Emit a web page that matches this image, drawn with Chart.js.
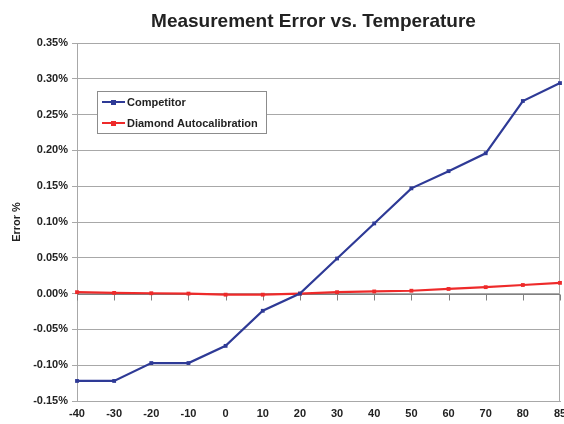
<!DOCTYPE html>
<html>
<head>
<meta charset="utf-8">
<script src="https://cdn.jsdelivr.net/npm/chart.js@4.4.1/dist/chart.umd.min.js"></script>
<style>
  html, body { margin: 0; padding: 0; background: #fff; }
  #wrap { width: 564px; height: 424px; }
</style>
</head>
<body>
<div id="wrap"><canvas id="error-chart" width="564" height="424"></canvas></div>
<script>
const temperatures = ["-40", "-30", "-20", "-10", "0", "10", "20", "30", "40", "50", "60", "70", "80", "85"];
const competitorError = [-0.122, -0.122, -0.097, -0.097, -0.073, -0.024, 0.0, 0.049, 0.098, 0.147, 0.171, 0.196, 0.269, 0.294];
const diamondError = [0.002, 0.001, 0.0005, 0.0, -0.0015, -0.0015, 0.0, 0.002, 0.003, 0.004, 0.0065, 0.009, 0.012, 0.015];
const errorTicks = [-0.15, -0.1, -0.05, 0, 0.05, 0.1, 0.15, 0.2, 0.25, 0.3, 0.35];

const FONT = '"Liberation Sans", Arial, Helvetica, sans-serif';
const TEXT = "#222222";
const GRID = "#a8a8a8";

Chart.defaults.font.family = FONT;
Chart.defaults.color = TEXT;

// title centred over the plot area, like the original
const titlePlugin = {
  id: "plotTitle",
  afterDraw(chart) {
    const { ctx, chartArea } = chart;
    ctx.save();
    ctx.font = "bold 19px " + FONT;
    ctx.fillStyle = TEXT;
    ctx.textAlign = "center";
    ctx.textBaseline = "middle";
    ctx.fillText("Measurement Error vs. Temperature", (chartArea.left + chartArea.right) / 2 - 5, 22);
    ctx.restore();
  },
};

// plot frame plus the category axis crossing at 0 with its tick marks
const framePlugin = {
  id: "plotFrame",
  beforeDatasetsDraw(chart) {
    const { ctx, chartArea, scales } = chart;
    const y0 = Math.round(scales.y.getPixelForValue(0)) + 0.5;
    ctx.save();
    ctx.strokeStyle = GRID;
    ctx.lineWidth = 1;
    ctx.strokeRect(chartArea.left + 0.5, chartArea.top + 0.5, chartArea.width - 1, chartArea.height);
    ctx.strokeStyle = "#808080";
    ctx.beginPath();
    ctx.moveTo(chartArea.left, y0);
    ctx.lineTo(chartArea.right, y0);
    temperatures.forEach((t, i) => {
      const x = Math.round(scales.x.getPixelForValue(i)) + 0.5;
      ctx.moveTo(x, y0);
      ctx.lineTo(x, y0 + 6);
    });
    ctx.stroke();
    ctx.restore();
  },
};

// boxed legend inside the plot, top left
const legendPlugin = {
  id: "boxLegend",
  afterDraw(chart) {
    const { ctx } = chart;
    const left = 97, top = 91, w = 169, h = 42;
    ctx.save();
    ctx.fillStyle = "#ffffff";
    ctx.fillRect(left, top, w, h);
    ctx.strokeStyle = "#8c8c8c";
    ctx.lineWidth = 1;
    ctx.strokeRect(left + 0.5, top + 0.5, w, h);
    ctx.font = "bold 11px " + FONT;
    ctx.textBaseline = "middle";
    chart.data.datasets.forEach((ds, i) => {
      const y = top + 11 + i * 21;
      ctx.strokeStyle = ds.borderColor;
      ctx.lineWidth = 2;
      ctx.beginPath();
      ctx.moveTo(left + 5, y);
      ctx.lineTo(left + 28, y);
      ctx.stroke();
      ctx.fillStyle = ds.borderColor;
      ctx.fillRect(left + 14, y - 2, 5, 5);
      ctx.fillStyle = TEXT;
      ctx.fillText(ds.label, left + 30, y + 0.5);
    });
    ctx.restore();
  },
};

function formatPercent(value) {
  const v = Math.abs(value) < 1e-9 ? 0 : value;
  return v.toFixed(2) + "%";
}

function makeDataset(label, data, color) {
  return {
    label: label,
    data: data,
    borderColor: color,
    backgroundColor: color,
    borderWidth: 2.2,
    pointStyle: "rect",
    pointRadius: 2.7,
    pointBorderWidth: 0,
    tension: 0,
  };
}

new Chart(document.getElementById("error-chart"), {
  type: "line",
  data: {
    labels: temperatures,
    datasets: [
      makeDataset("Competitor", competitorError, "#2e3a96"),
      makeDataset("Diamond Autocalibration", diamondError, "#ee2a2a"),
    ],
  },
  options: {
    responsive: false,
    animation: false,
    devicePixelRatio: 1,
    layout: { padding: { top: 43, right: 4, bottom: 0, left: 0 } },
    plugins: {
      legend: { display: false },
      title: { display: false },
      tooltip: { enabled: false },
    },
    scales: {
      x: {
        type: "category",
        offset: false,
        grid: { display: false, drawTicks: false },
        border: { display: true, color: GRID },
        ticks: {
          padding: 6,
          maxRotation: 0,
          autoSkip: false,
          font: { size: 11, weight: "bold" },
          color: TEXT,
        },
        afterFit(scale) {
          scale.height = 23;
          scale.paddingLeft = 0;
          scale.paddingRight = 0;
        },
      },
      y: {
        min: -0.15,
        max: 0.35,
        afterBuildTicks(scale) {
          scale.ticks = errorTicks.map((v) => ({ value: v }));
        },
        grid: { color: GRID, tickLength: 5, drawTicks: true },
        border: { display: true, color: GRID },
        ticks: {
          padding: 4,
          font: { size: 11, weight: "bold" },
          color: TEXT,
          callback: (value) => formatPercent(value),
        },
        title: {
          display: true,
          text: "Error %",
          font: { size: 11, weight: "bold" },
          color: TEXT,
          padding: { top: 10, bottom: 0 },
        },
        afterFit(scale) {
          scale.width = 77;
        },
      },
    },
  },
  plugins: [framePlugin, titlePlugin, legendPlugin],
});
</script>
</body>
</html>
